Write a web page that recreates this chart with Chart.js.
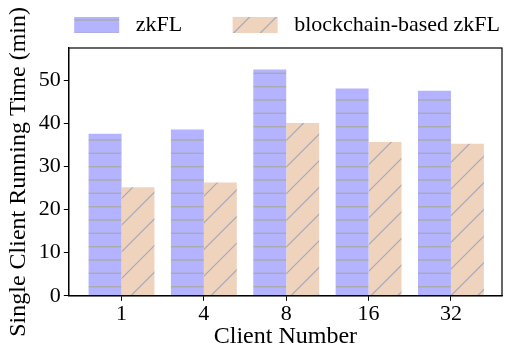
<!DOCTYPE html>
<html>
<head>
<meta charset="utf-8">
<script src="https://cdn.jsdelivr.net/npm/chart.js@4.4.1/dist/chart.umd.min.js"></script>
<style>
  html, body { margin: 0; padding: 0; background: #fff; }
  #wrap { width: 518px; height: 358px; }
</style>
</head>
<body>
<div id="wrap"><canvas id="runtimeChart"></canvas></div>
<script>
  // Datos
  const clientNumbers = ['1', '4', '8', '16', '32'];
  const zkflTimes = [37.6, 38.6, 52.5, 48.1, 47.6];
  const blockchainTimes = [25.2, 26.3, 40.1, 35.7, 35.3];
  const yTicks = [0, 10, 20, 30, 40, 50];

  const serif = '"Liberation Serif", "DejaVu Serif", serif';

  // patrón de rayas horizontales (zkFL)
  function hLinePattern() {
    const c = document.createElement('canvas');
    c.width = 10; c.height = 40;
    const g = c.getContext('2d');
    g.fillStyle = 'rgb(179,179,255)';
    g.fillRect(0, 0, 10, 40);
    g.strokeStyle = 'rgb(170,170,170)';
    g.lineWidth = 1.4;
    [6.67, 20, 33.33].forEach(y => {
      g.beginPath(); g.moveTo(0, y); g.lineTo(10, y); g.stroke();
    });
    return g.createPattern(c, 'repeat');
  }

  // patrón diagonal "/" (blockchain-based zkFL)
  function diagPattern() {
    const s = 80;
    const c = document.createElement('canvas');
    c.width = s; c.height = s;
    const g = c.getContext('2d');
    g.fillStyle = 'rgb(240,211,188)';
    g.fillRect(0, 0, s, s);
    g.strokeStyle = 'rgb(165,170,185)';
    g.lineWidth = 1.2;
    for (let k = 0; k <= 6; k++) {
      const d = k * s / 3;
      g.beginPath(); g.moveTo(d + 2, -2); g.lineTo(-2, d + 2); g.stroke();
    }
    return g.createPattern(c, 'repeat');
  }

  // marco completo alrededor del área del gráfico + ajuste de la leyenda
  const frameBox = {
    id: 'frameBox',
    afterLayout(chart) {
      chart.legend.right += 10;
      chart.legend.top -= 2;
    },
    afterDraw(chart) {
      const a = chart.chartArea;
      const ctx = chart.ctx;
      ctx.save();
      ctx.strokeStyle = '#000';
      ctx.lineWidth = 1.2;
      ctx.strokeRect(a.left, a.top, a.right - a.left, a.bottom - a.top);
      ctx.restore();
    }
  };

  const ctx = document.getElementById('runtimeChart');
  new Chart(ctx, {
    type: 'bar',
    data: {
      datasets: [{
        label: ' zkFL       ',
        data: zkflTimes.map((v, i) => ({ x: i, y: v })),
        backgroundColor: hLinePattern(),
        borderWidth: 0
      }, {
        label: ' blockchain-based zkFL',
        data: blockchainTimes.map((v, i) => ({ x: i, y: v })),
        backgroundColor: diagPattern(),
        borderWidth: 0
      }]
    },
    options: {
      responsive: true,
      maintainAspectRatio: false,
      animation: false,
      categoryPercentage: 0.8,
      barPercentage: 1.0,
      layout: { padding: { left: 4, right: 16, top: 4, bottom: 7 } },
      plugins: {
        tooltip: { enabled: false },
        legend: {
          position: 'top',
          align: 'end',
          labels: {
            boxWidth: 45,
            boxHeight: 16,
            padding: 12,
            color: '#000',
            font: { family: serif, size: 22 }
          }
        }
      },
      scales: {
        x: {
          type: 'linear',
          offset: false,
          min: -0.64,
          max: 4.62,
          grid: { offset: false, drawOnChartArea: false, tickLength: 5, tickColor: '#000' },
          border: { color: '#000', width: 1.2 },
          afterBuildTicks: axis => { axis.ticks = clientNumbers.map((c, i) => ({ value: i })); },
          ticks: {
            color: '#000',
            padding: 0,
            maxRotation: 0,
            autoSkip: false,
            font: { family: serif, size: 22 },
            callback: v => clientNumbers[v]
          },
          title: {
            display: true,
            text: 'Client Number',
            color: '#000',
            padding: { top: -5, bottom: 0 },
            font: { family: serif, size: 24 }
          }
        },
        y: {
          min: 0,
          max: 57.5,
          grid: { drawOnChartArea: false, tickLength: 5, tickColor: '#000' },
          border: { color: '#000', width: 1.2 },
          afterBuildTicks: axis => { axis.ticks = yTicks.map(v => ({ value: v })); },
          ticks: {
            color: '#000',
            padding: 3,
            font: { family: serif, size: 22 }
          },
          title: {
            display: true,
            text: 'Single Client Running Time (min)',
            color: '#000',
            padding: { top: 0, bottom: 3 },
            font: { family: serif, size: 24 }
          }
        }
      }
    },
    plugins: [frameBox]
  });
</script>
</body>
</html>
